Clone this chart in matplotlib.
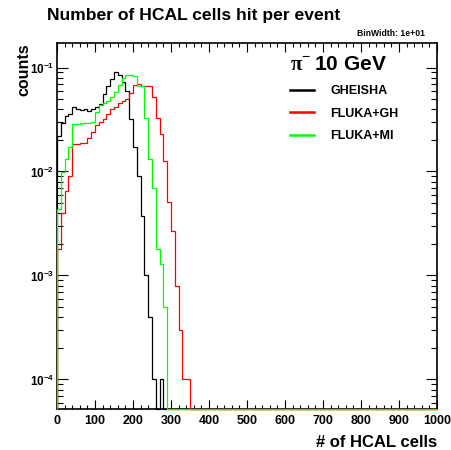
import numpy as np
import matplotlib
matplotlib.use("Agg")
import matplotlib.pyplot as plt
from matplotlib.ticker import MultipleLocator, LogLocator, FuncFormatter, NullFormatter

plt.rcParams['font.family'] = ['Liberation Sans', 'DejaVu Sans']
plt.rcParams['font.weight'] = 'bold'
plt.rcParams['mathtext.fontset'] = 'custom'
plt.rcParams['mathtext.rm'] = 'Liberation Serif'
plt.rcParams['mathtext.bf'] = 'Liberation Sans:bold'

# bin edges: 100 bins of width 10 from 0 to 1000
edges = np.arange(0, 1001, 10)

# normalised counts per bin (rest of the bins are empty)
gheisha = [0.022, 0.029, 0.0345, 0.036, 0.042, 0.040, 0.039, 0.040, 0.0386, 0.040,
           0.042, 0.045, 0.056, 0.067, 0.078, 0.090, 0.085, 0.072, 0.060, 0.032,
           0.0171, 0.0091, 0.0037, 0.0010, 0.0004, 0.0001, 0.0, 0.0001]
fluka_gh = [0.0018, 0.004, 0.0065, 0.0091, 0.0185, 0.0185, 0.019, 0.019, 0.021, 0.024,
            0.028, 0.030, 0.032, 0.036, 0.040, 0.042, 0.046, 0.048, 0.050, 0.057,
            0.068, 0.069, 0.067, 0.067, 0.066, 0.052, 0.033, 0.0227, 0.0125, 0.0051,
            0.0027, 0.0008, 0.0003, 0.0001, 0.0001]
fluka_mi = [0.0044, 0.0099, 0.0132, 0.0171, 0.0287, 0.0287, 0.029, 0.029, 0.029, 0.030,
            0.037, 0.044, 0.046, 0.048, 0.052, 0.058, 0.068, 0.080, 0.084, 0.084,
            0.082, 0.067, 0.066, 0.033, 0.0132, 0.0069, 0.0018, 0.0013, 0.0005]

labels = ["GHEISHA", "FLUKA+GH", "FLUKA+MI"]
colors = ["black", "#ff0000", "#00ff00"]

ymin, ymax = 5.2e-5, 0.172

def full(v):
    h = np.zeros(len(edges) - 1)
    h[:len(v)] = v
    # empty bins sit on the bottom of the frame like in ROOT
    return np.where(h > 0, h, ymin)

fig = plt.figure(figsize=(4.52, 4.5), dpi=100)
ax = fig.add_axes([0.126, 0.0911, 0.841, 0.8133])

for vals, lab, c in zip([gheisha, fluka_gh, fluka_mi], labels, colors):
    ax.stairs(full(vals), edges, baseline=ymin, color=c, lw=0.9, label=lab,
              zorder=3, clip_on=False)

ax.set_yscale('log')
ax.set_xlim(0, 1000)
ax.set_ylim(ymin, ymax)

ax.xaxis.set_major_locator(MultipleLocator(100))
ax.xaxis.set_minor_locator(MultipleLocator(20))
ax.yaxis.set_major_locator(LogLocator(base=10, numticks=10))
ax.yaxis.set_minor_locator(LogLocator(base=10, subs=np.arange(2, 10), numticks=20))
ax.yaxis.set_minor_formatter(NullFormatter())
ax.yaxis.set_major_formatter(FuncFormatter(
    lambda v, p: r'$\mathbf{10^{%d}}$' % int(round(np.log10(v)))))

ax.tick_params(which='both', direction='in', top=True, right=True, width=0.8)
ax.tick_params(axis='x', which='major', length=6.5, pad=4, labelsize=9)
ax.tick_params(axis='x', which='minor', length=3.2)
ax.tick_params(axis='y', which='major', length=8, pad=2, labelsize=8.5)
ax.tick_params(axis='y', which='minor', length=4.5)
for lab in ax.get_xticklabels() + ax.get_yticklabels():
    lab.set_fontweight('bold')
for s in ax.spines.values():
    s.set_linewidth(1.2)

ax.set_xlabel("# of HCAL cells", fontsize=12, fontweight='bold', loc='right', labelpad=6)
ax.set_ylabel("counts", fontsize=11.5, fontweight='bold', loc='top')
ax.yaxis.set_label_coords(-0.068, 1.0)

fig.text(0.104, 0.966, "Number of HCAL cells hit per event", fontsize=12.6,
         fontweight='bold', va='center', ha='left')
fig.text(0.94, 0.925, "BinWidth: 1e+01", fontsize=6.2, fontweight='bold',
         va='center', ha='right')

leg = ax.legend(loc='upper left', bbox_to_anchor=(0.6, 0.98), frameon=False,
                fontsize=9, handlelength=1.9, handletextpad=1.3, labelspacing=0.85,
                title=r'$\mathrm{\pi}^{-}\,$10 GeV', alignment='left', borderaxespad=0)
leg.get_title().set_fontsize(15)
leg.get_title().set_fontweight('bold')
for t in leg.get_texts():
    t.set_fontweight('bold')
for h in leg.legend_handles:
    h.set_linewidth(1.8)

fig.savefig("out.png", dpi=100)
